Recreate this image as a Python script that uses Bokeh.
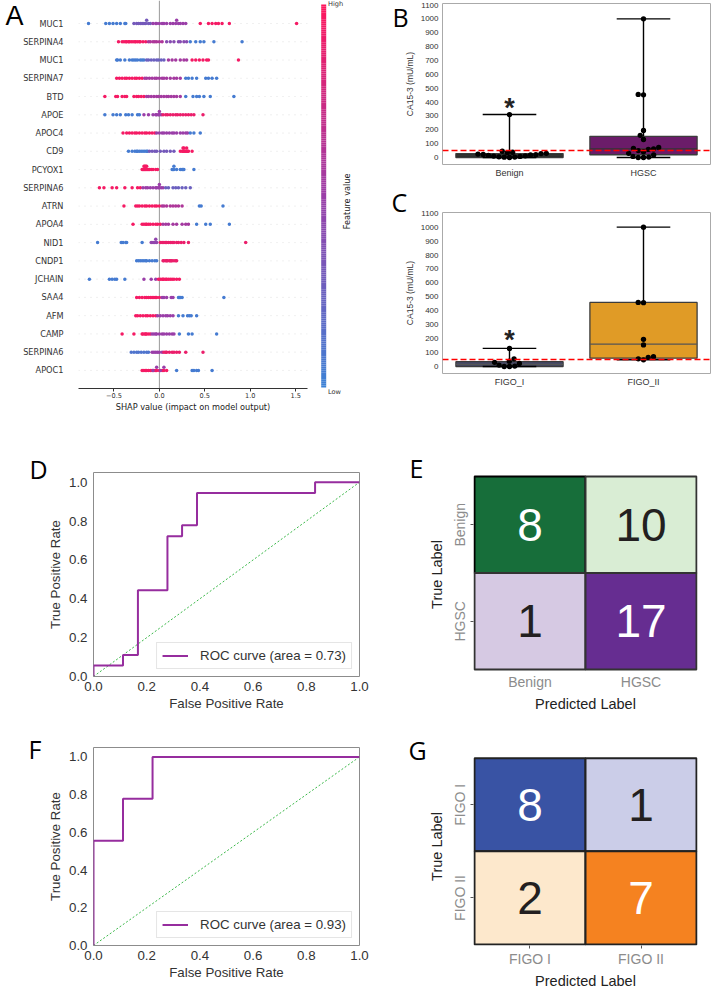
import numpy as np
from bokeh.plotting import figure
from bokeh.models import Range1d, FixedTicker, Span, Label, PrintfTickFormatter
from bokeh.layouts import row, column
from bokeh.embed import file_html
from bokeh.resources import INLINE
from bokeh.core.properties import value

# ====================== DATA ======================
# Panel A : SHAP summary. Each row: (feature level 0=low..1=high, SHAP values)
shap_features = ["MUC1", "SERPINA4", "MUC1", "SERPINA7", "BTD", "APOE", "APOC4", "CD9",
                 "PCYOX1", "SERPINA6", "ATRN", "APOA4", "NID1", "CNDP1", "JCHAIN",
                 "SAA4", "AFM", "CAMP", "SERPINA6", "APOC1"]
shap_xticks = [-0.5, 0.0, 0.5, 1.0, 1.5]

r01 = [(0.05, [-0.78, -0.59, -0.55, -0.51, -0.47, -0.43, -0.38, -0.37]),
       (0.30, [-0.28, -0.25, -0.23, -0.21, -0.19, -0.17, -0.15, -0.14, -0.12, -0.10]),
       (0.50, [-0.07, -0.04, -0.03, 0.0, 0.03, 0.05, 0.08, 0.12, 0.15, 0.18, 0.19, 0.21, 0.23, 0.26, 0.29]),
       (0.95, [0.45, 0.54, 0.58, 0.62, 0.65, 0.69, 0.77, 1.51])]
r02 = [(0.95, [-0.45, -0.41, -0.39, -0.37, -0.36, -0.34, -0.33, -0.31, -0.29, -0.27, -0.26, -0.24, -0.22, -0.21, -0.18, -0.15]),
       (0.60, [-0.12, -0.10, -0.07, -0.05, -0.03, 0.0, 0.03]),
       (0.40, [0.08, 0.12, 0.16, 0.21, 0.23, 0.27, 0.30]),
       (0.05, [0.34, 0.40, 0.45, 0.49, 0.60, 0.91])]
r03 = [(0.05, [-0.47, -0.46, -0.43, -0.38, -0.33, -0.30, -0.28, -0.26, -0.24, -0.21, -0.19, -0.17]),
       (0.25, [-0.14, -0.12, -0.09, -0.06, -0.03, -0.01, 0.02, 0.05]),
       (0.55, [0.10, 0.14, 0.18, 0.23, 0.27, 0.30]),
       (0.95, [0.36, 0.40, 0.44, 0.48, 0.52, 0.54, 0.87])]
r04 = [(0.95, [-0.47, -0.44, -0.41, -0.38, -0.36, -0.33, -0.30, -0.27, -0.25, -0.22, -0.19]),
       (0.55, [-0.16, -0.14, -0.11, -0.08, -0.05, -0.03, 0.0, 0.03, 0.05, 0.08, 0.12, 0.16, 0.19, 0.23]),
       (0.05, [0.29, 0.32, 0.36, 0.41, 0.51, 0.54, 0.58, 0.63])]
r05 = [(0.95, [-0.60, -0.48, -0.46, -0.41, -0.38, -0.36, -0.28, -0.25, -0.23, -0.20, -0.17]),
       (0.55, [-0.14, -0.12, -0.09, -0.06, -0.03, -0.01, 0.02, 0.05, 0.08, 0.10, 0.13, 0.16, 0.19, 0.23]),
       (0.05, [0.29, 0.37, 0.41, 0.44, 0.49, 0.56, 0.82])]
r06 = [(0.05, [-0.60, -0.51, -0.47, -0.43, -0.37, -0.34, -0.30, -0.24, -0.22]),
       (0.50, [-0.17, -0.12, -0.07, -0.04, -0.03, -0.01, 0.0, 0.0, 0.02]),
       (0.90, [0.04, 0.07, 0.09, 0.12, 0.15, 0.18, 0.20, 0.23, 0.26, 0.29, 0.32, 0.35, 0.38, 0.48])]
r07 = [(0.95, [-0.40, -0.36, -0.33, -0.30, -0.27, -0.25, -0.22, -0.19, -0.16, -0.14, -0.11, -0.08, -0.05]),
       (0.50, [-0.03, 0.0, 0.03, 0.05, 0.08, 0.11, 0.14, 0.16, 0.19, 0.23, 0.26, 0.29, 0.31]),
       (0.05, [0.34, 0.38, 0.45])]
r08 = [(0.05, [-0.34, -0.30, -0.27, -0.25, -0.24, -0.22, -0.20, -0.18, -0.16, -0.14, -0.13]),
       (0.30, [-0.11, -0.08, -0.05, -0.03, 0.01, 0.05, 0.08, 0.12, 0.16]),
       (0.95, [0.23, 0.25, 0.26, 0.26, 0.27, 0.27, 0.28, 0.29, 0.30, 0.30, 0.31, 0.32, 0.36])]
r09 = [(0.95, [-0.19, -0.18, -0.17, -0.17, -0.16, -0.16, -0.15, -0.15, -0.14, -0.14, -0.13, -0.12, -0.11, -0.09, -0.07, -0.04, -0.02]),
       (0.05, [0.14, 0.15, 0.16, 0.16, 0.19, 0.23, 0.25, 0.26, 0.27, 0.38])]
r10 = [(0.95, [-0.66, -0.61, -0.52, -0.47, -0.38, -0.30, -0.24, -0.21]),
       (0.50, [-0.18, -0.15, -0.13, -0.10, -0.07, -0.04, -0.03, -0.01, 0.0, 0.0, 0.02, 0.04]),
       (0.25, [0.07, 0.10, 0.15, 0.18, 0.21, 0.25, 0.29, 0.34])]
r11 = [(0.95, [-0.39, -0.26, -0.24, -0.22, -0.19, -0.16, -0.14, -0.11, -0.08, -0.05, -0.03, 0.0]),
       (0.60, [0.03, 0.05, 0.08, 0.12, 0.15, 0.18, 0.21, 0.25]),
       (0.05, [0.44, 0.46, 0.70])]
r12 = [(0.95, [-0.29, -0.19, -0.17, -0.15, -0.14, -0.12, -0.10, -0.07, -0.04, -0.02, 0.01]),
       (0.55, [0.04, 0.07, 0.10, 0.15, 0.19, 0.25, 0.29, 0.32]),
       (0.05, [0.41, 0.51, 0.56, 0.77])]
r13 = [(0.05, [-0.68, -0.42, -0.40, -0.37, -0.36, -0.19]),
       (0.45, [-0.09, -0.07, -0.05, -0.04, -0.03]),
       (0.90, [0.01, 0.03, 0.05, 0.07, 0.08, 0.10, 0.12, 0.14, 0.16, 0.19, 0.21, 0.24, 0.27, 0.32, 0.95])]
r14 = [(0.05, [-0.25, -0.23, -0.21, -0.19, -0.17, -0.15, -0.14, -0.11, -0.08, -0.05, -0.03]),
       (0.90, [0.04, 0.05, 0.07, 0.08, 0.09, 0.11, 0.12, 0.13, 0.14, 0.16, 0.18, 0.19])]
r15 = [(0.05, [-0.77, -0.55, -0.52, -0.49, -0.47, -0.38]),
       (0.50, [-0.17, -0.09, -0.04]),
       (0.95, [-0.01, 0.01, 0.03, 0.04, 0.05, 0.07, 0.08, 0.10, 0.12, 0.14, 0.16, 0.19, 0.22])]
r16 = [(0.95, [-0.25, -0.22, -0.19, -0.16, -0.14, -0.12, -0.10, -0.08, -0.06, -0.04, -0.03, 0.0]),
       (0.50, [0.03, 0.05, 0.08, 0.13, 0.15]),
       (0.05, [0.21, 0.22, 0.23, 0.25, 0.71])]
r17 = [(0.95, [-0.26, -0.24, -0.21, -0.18, -0.15, -0.13, -0.10, -0.07, -0.04]),
       (0.50, [-0.02, 0.01, 0.04, 0.07, 0.09, 0.12, 0.15]),
       (0.05, [0.21, 0.26, 0.31, 0.33, 0.35, 0.41])]
r18 = [(0.95, [-0.41, -0.28, -0.19, -0.18, -0.16, -0.15, -0.14, -0.12, -0.10]),
       (0.50, [-0.08, -0.06, -0.04, -0.03, 0.0, 0.03, 0.05, 0.08, 0.11, 0.14, 0.16]),
       (0.05, [0.22, 0.32, 0.36, 0.63])]
r19 = [(0.10, [-0.31, -0.28, -0.25, -0.23, -0.20, -0.17, -0.14, -0.12]),
       (0.50, [-0.08, -0.06, -0.04, -0.02, 0.0, 0.03]),
       (0.90, [0.05, 0.07, 0.08, 0.11, 0.14, 0.16, 0.19, 0.22, 0.29, 0.48])]
r20 = [(0.95, [-0.19, -0.17, -0.15, -0.14, -0.12, -0.10, -0.08, -0.06, -0.04, -0.03, 0.0, 0.03, 0.05, 0.08]),
       (0.50, [-0.07, -0.03, 0.01, 0.05]),
       (0.05, [0.19, 0.36, 0.38, 0.41, 0.43, 0.58])]
shap_rows = [r01, r02, r03, r04, r05, r06, r07, r08, r09, r10,
             r11, r12, r13, r14, r15, r16, r17, r18, r19, r20]

# Panel B : CA15-3 Benign vs HGSC
b_groups = ["Benign", "HGSC"]
b_benign = [310, 45, 38, 35, 30, 28, 25, 22, 20, 18, 15, 12, 10, 8, 5, 3, 2, 0]
b_hgsc = [1000, 455, 452, 195, 160, 130, 72, 65, 62, 58, 50, 42, 30, 18, 8, 3, 0, 0]
b_q1 = [0, 20]
b_med = [14, 62]
b_q3 = [28, 153]
b_lo = [0, 0]
b_hi = [310, 1000]
b_star = 355

# Panel C : CA15-3 FIGO I vs FIGO II
c_groups = ["FIGO_I", "FIGO_II"]
c_figo1 = [130, 55, 38, 30, 22, 10, 3, 0, 0]
c_figo2 = [1000, 460, 458, 195, 155, 70, 65, 55, 48]
c_q1 = [0, 60]
c_med = [15, 160]
c_q3 = [35, 460]
c_lo = [0, 48]
c_hi = [130, 1000]
c_star = 187

ca_cutoff = 50
ca_yticks = list(range(0, 1101, 100))

# Panel D / F : ROC curves
roc_d_fpr = [0, 0, 0.111, 0.111, 0.167, 0.167, 0.278, 0.278, 0.333, 0.333, 0.389, 0.389, 0.833, 0.833, 1.0]
roc_d_tpr = [0, 0.056, 0.056, 0.111, 0.111, 0.444, 0.444, 0.722, 0.722, 0.778, 0.778, 0.944, 0.944, 1.0, 1.0]
roc_d_auc = 0.73
roc_f_fpr = [0, 0, 0.111, 0.111, 0.222, 0.222, 1.0]
roc_f_tpr = [0, 0.556, 0.556, 0.778, 0.778, 1.0, 1.0]
roc_f_auc = 0.93
chance_x = [0, 1]
chance_y = [0, 1]
roc_ticks = [0.0, 0.2, 0.4, 0.6, 0.8, 1.0]

# Panel E / G : confusion matrices
cm_e_labels = ["Benign", "HGSC"]
cm_e = [[8, 10], [1, 17]]
cm_g_labels = ["FIGO I", "FIGO II"]
cm_g = [[8, 1], [2, 7]]

# ====================== STYLE / HELPERS ======================
LETTER_FONT = "Open Sans"
SANS = "Liberation Sans"


def _rgb(h):
    return tuple(int(h[i:i + 2], 16) for i in (1, 3, 5))


CM_ANCHORS = [(0.0, "#3c82d6"), (0.5, "#9a3ea8"), (1.0, "#ff165c")]


def cmap(t):
    for (t0, c0), (t1, c1) in zip(CM_ANCHORS[:-1], CM_ANCHORS[1:]):
        if t <= t1:
            f = (t - t0) / (t1 - t0)
            a, b = _rgb(c0), _rgb(c1)
            return "#%02x%02x%02x" % tuple(int(round(a[k] + (b[k] - a[k]) * f)) for k in range(3))
    return CM_ANCHORS[-1][1]


def shap_jitter(vals, row_height=0.4, nbins=100):
    vals = np.asarray(vals, dtype=float)
    n = len(vals)
    quant = np.round(nbins * (vals - vals.min()) / (vals.max() - vals.min() + 1e-8))
    inds = np.argsort(quant, kind="stable")
    layer, last = 0, None
    ys = np.zeros(n)
    for ind in inds:
        if quant[ind] != last:
            layer = 0
        ys[ind] = np.ceil(layer / 2) * ((layer % 2) * 2 - 1)
        layer += 1
        last = quant[ind]
    ys *= 0.9 * (row_height / np.max(ys + 1))
    return ys


def swarm_offsets(vals, px_per_y, d):
    vals = np.asarray(vals, dtype=float)
    order = np.argsort(vals, kind="stable")
    placed = []
    offs = np.zeros(len(vals))
    for i in order:
        y = vals[i] * px_per_y
        cands = [0.0]
        for (px, py) in placed:
            dy = abs(py - y)
            if dy < d:
                dx = np.sqrt(d * d - dy * dy)
                cands += [px - dx, px + dx]
        cands.sort(key=lambda c: (abs(c), c))
        for c in cands:
            if all((c - px) ** 2 + (y - py) ** 2 >= d * d - 1e-6 for px, py in placed):
                offs[i] = c
                break
        placed.append((offs[i], y))
    return offs


def add_letter(p, letter, geom, xr, yr, px, py_center, size="25px", font=LETTER_FONT):
    # panel letter, placed in the left side panel so that it is not clipped by the frame
    fl, ft, fw, fh = geom
    x = xr[0] + (px - fl) / fw * (xr[1] - xr[0])
    y = yr[1] - (py_center - ft) / fh * (yr[1] - yr[0])
    p.add_layout(Label(x=x, y=y, text=letter, text_font=font, text_font_size=size,
                       text_baseline="middle", text_align="left", text_color="black"),
                 "left")


def base_fig(fw, fh, left, right, top, bottom, xr, yr, **kw):
    p = figure(width=left + fw + right, height=top + fh + bottom,
               min_border_left=left, min_border_right=right,
               min_border_top=top, min_border_bottom=bottom,
               x_range=Range1d(*xr), y_range=Range1d(*yr),
               output_backend="svg", toolbar_location=None, **kw)
    p.xgrid.grid_line_color = None
    p.ygrid.grid_line_color = None
    p.background_fill_color = "white"
    p.border_fill_color = "white"
    return p


def no_ticks(ax):
    ax.major_tick_line_color = None
    ax.minor_tick_line_color = None
    ax.major_tick_out = 0
    ax.major_tick_in = 0
    ax.minor_tick_out = 0
    ax.minor_tick_in = 0


# ====================== PANEL A ======================
A_XR = (-0.89, 1.63)
A_YR = (-0.99, 20.26)
pA = base_fig(229, 388, 78, 13, 0, 32, A_XR, A_YR)
pA.outline_line_color = None
nrows = len(shap_features)
for i in range(nrows):
    pA.add_layout(Span(location=nrows - 1 - i, dimension="width", line_color="#cccccc",
                       line_width=0.6, line_dash="1 5", level="underlay"))
pA.add_layout(Span(location=0, dimension="height", line_color="#999999", line_width=1,
                   level="underlay"))
for i, groups in enumerate(shap_rows):
    vals = [v for _, g in groups for v in g]
    levels = [lv for lv, g in groups for _ in g]
    jit = shap_jitter(vals)
    ypos = (nrows - 1 - i) + jit
    pA.scatter(vals, ypos, size=3.5, fill_color=[cmap(l) for l in levels], line_color=None)

pA.yaxis.ticker = FixedTicker(ticks=list(range(nrows)))
pA.yaxis.major_label_overrides = {nrows - 1 - i: name for i, name in enumerate(shap_features)}
pA.yaxis.axis_line_color = None
no_ticks(pA.yaxis)
pA.yaxis.major_label_standoff = 15
pA.yaxis.major_label_text_font = "DejaVu Sans"
pA.yaxis.major_label_text_font_size = "8.2px"
pA.yaxis.major_label_text_color = "#333333"
pA.xaxis.ticker = FixedTicker(ticks=shap_xticks)
pA.xaxis.major_label_overrides = {t: ("\u2212" + "%.1f" % abs(t)) if t < 0 else "%.1f" % t
                                  for t in shap_xticks}
pA.xaxis.axis_line_color = "#333333"
pA.xaxis.major_tick_line_color = "#333333"
pA.xaxis.minor_tick_line_color = None
pA.xaxis.major_tick_out = 3
pA.xaxis.major_tick_in = 0
pA.xaxis.major_label_standoff = 1
pA.xaxis.major_label_text_font = "DejaVu Sans"
pA.xaxis.major_label_text_font_size = "6.6px"
pA.xaxis.major_label_text_color = "#333333"
pA.xaxis.axis_label = "SHAP value (impact on model output)"
pA.xaxis.axis_label_standoff = 1
pA.xaxis.axis_label_text_font = "DejaVu Sans"
pA.xaxis.axis_label_text_font_size = "8.2px"
pA.xaxis.axis_label_text_font_style = "normal"
pA.xaxis.axis_label_text_color = "#222222"
add_letter(pA, "A", (78, 0, 229, 388), A_XR, A_YR, 5, 15.8, "27px", SANS)

# colour bar (separate small figure, same top/bottom borders as panel A)
CB_YR = (-0.00261, 1.01044)
pCB = figure(width=40, height=420, min_border_left=0, min_border_right=0,
             min_border_top=0, min_border_bottom=32, x_range=Range1d(320, 360),
             y_range=Range1d(*CB_YR), y_axis_type=None,
             output_backend="svg", toolbar_location=None)
pCB.xgrid.grid_line_color = None
pCB.ygrid.grid_line_color = None
pCB.outline_line_color = None
nb = 200
lv = np.arange(nb) / nb
pCB.quad(left=320.7, right=325.7, bottom=lv, top=lv + 1.0 / nb,
         fill_color=[cmap(t + 0.5 / nb) for t in lv], line_color=None)
pCB.text(x=[327.5], y=[1.0], text=["High"], text_font=value("DejaVu Sans"),
         text_font_size="6.6px", text_color="#333333", text_align="left", text_baseline="middle")
pCB.text(x=[346.5], y=[0.486], text=["Feature value"], text_font=value("DejaVu Sans"),
         text_font_size="8.2px", text_color="#222222", text_align="center",
         text_baseline="middle", angle=np.pi / 2)
pCB.xaxis.ticker = FixedTicker(ticks=[334])
pCB.xaxis.major_label_overrides = {334: "Low"}
pCB.xaxis.axis_line_color = None
no_ticks(pCB.xaxis)
pCB.xaxis.major_label_standoff = -1
pCB.xaxis.major_label_text_font = "DejaVu Sans"
pCB.xaxis.major_label_text_font_size = "6.6px"
pCB.xaxis.major_label_text_color = "#333333"


# ====================== PANELS B / C ======================
def box_panel(groups, samples, q1, med, q3, lo, hi, fills, med_cols, star_y, yr, top, bottom,
              frame_top, letter, letter_xy):
    xr = (-0.5, 1.5)
    p = base_fig(268, 161, 82, 2, top, bottom, xr, yr)
    p.outline_line_color = "#aaaaaa"
    cats = [0, 1]
    p.quad(left=[c - 0.4 for c in cats], right=[c + 0.4 for c in cats], bottom=q1, top=q3,
           fill_color=fills, line_color="#3c3c3c", line_width=1.3)
    p.segment(x0=[c - 0.4 for c in cats], y0=med, x1=[c + 0.4 for c in cats], y1=med,
              line_color=med_cols, line_width=1.3)
    p.segment(x0=cats, y0=q3, x1=cats, y1=hi, line_color="black", line_width=1.4)
    p.segment(x0=cats, y0=lo, x1=cats, y1=q1, line_color="black", line_width=1.4)
    p.segment(x0=[c - 0.2 for c in cats], y0=hi, x1=[c + 0.2 for c in cats], y1=hi,
              line_color="black", line_width=1.4)
    p.segment(x0=[c - 0.2 for c in cats], y0=lo, x1=[c + 0.2 for c in cats], y1=lo,
              line_color="black", line_width=1.4)
    p.add_layout(Span(location=ca_cutoff, dimension="width", line_color="#ff0000",
                      line_width=1.5, line_dash="6 3"))
    px_per_y = 161.0 / (yr[1] - yr[0])
    for c, vals in zip(cats, samples):
        offs = swarm_offsets(vals, px_per_y, 5.3)
        p.scatter([c + o / 134.0 for o in offs], vals, size=5.3, fill_color="black",
                  line_color=None)
    p.text(x=[0], y=[star_y], text=["*"], text_font=value(SANS), text_font_size="27px",
           text_font_style="bold", text_align="center", text_baseline="middle",
           text_color="#222222")
    p.xaxis.ticker = FixedTicker(ticks=cats)
    p.xaxis.major_label_overrides = {c: g for c, g in zip(cats, groups)}
    p.yaxis.ticker = FixedTicker(ticks=ca_yticks)
    for ax in (p.xaxis, p.yaxis):
        ax.axis_line_color = None
        no_ticks(ax)
        ax.major_label_text_font = SANS
        ax.major_label_text_color = "#333333"
    p.xaxis.major_label_text_font_size = "9px"
    p.xaxis.major_label_standoff = 3
    p.yaxis.major_label_text_font_size = "8px"
    p.yaxis.major_label_standoff = 4
    p.yaxis.axis_label = "CA15-3 (mU/mL)"
    p.yaxis.axis_label_text_font = SANS
    p.yaxis.axis_label_text_font_size = "8.5px"
    p.yaxis.axis_label_text_font_style = "normal"
    p.yaxis.axis_label_text_color = "#333333"
    p.yaxis.axis_label_standoff = 3
    add_letter(p, letter, (442, frame_top, 268, 161), xr, yr, letter_xy[0], letter_xy[1])
    return p


pB = box_panel(b_groups, [b_benign, b_hgsc], b_q1, b_med, b_q3, b_lo, b_hi,
               ["#282c28", "#6b1c69"], ["#333333", "#333333"], b_star,
               (-50.5, 1110.8), 3, 16, 3, "B", (392, 16.5))
pC = box_panel(c_groups, [c_figo1, c_figo2], c_q1, c_med, c_q3, c_lo, c_hi,
               ["#464868", "#e09b26"], ["#555555", "#555555"], c_star,
               (-50.2, 1105.0), 32, 47, 212, "C", (391, 201))


# ====================== PANELS D / F ======================
def roc_panel(fpr, tpr, auc, top, bottom, frame_top, letter, letter_xy):
    xr, yr = (0.0, 1.0), (0.0, 1.05)
    p = base_fig(266, 204, 93, 13, top, bottom, xr, yr)
    p.outline_line_color = "#8c8c8c"
    p.line(chance_x, chance_y, line_color="#3cb84a", line_width=1, line_dash="2 2")
    p.line(fpr, tpr, line_color="#962d9e", line_width=2,
           legend_label="ROC curve (area = %.2f)" % auc)
    p.xaxis.ticker = FixedTicker(ticks=roc_ticks)
    p.yaxis.ticker = FixedTicker(ticks=roc_ticks)
    for ax in (p.xaxis, p.yaxis):
        ax.formatter = PrintfTickFormatter(format="%.1f")
        ax.axis_line_color = None
        no_ticks(ax)
        ax.major_label_text_font = SANS
        ax.major_label_text_font_size = "13.3px"
        ax.major_label_text_color = "#333333"
        ax.axis_label_text_font = SANS
        ax.axis_label_text_font_size = "13.3px"
        ax.axis_label_text_font_style = "normal"
        ax.axis_label_text_color = "#333333"
    p.xaxis.major_label_standoff = 5
    p.yaxis.major_label_standoff = 6
    p.xaxis.axis_label = "False Positive Rate"
    p.yaxis.axis_label = "True Positive Rate"
    p.xaxis.axis_label_standoff = 2
    p.yaxis.axis_label_standoff = 3
    lg = p.legend[0]
    lg.location = "bottom_right"
    lg.margin = 7
    lg.padding = 5
    lg.spacing = 0
    lg.glyph_width = 26
    lg.glyph_height = 13
    lg.label_height = 13
    lg.label_standoff = 12
    lg.label_text_font = SANS
    lg.label_text_font_size = "13.3px"
    lg.label_text_color = "#333333"
    lg.border_line_color = "#cccccc"
    lg.border_line_width = 1
    lg.background_fill_color = "white"
    lg.background_fill_alpha = 0.9
    add_letter(p, letter, (93, frame_top, 266, 204), xr, yr, letter_xy[0], letter_xy[1])
    return p


# rows 2 and 3: plots in the same row share top / bottom borders (frames are aligned)
pD = roc_panel(roc_d_fpr, roc_d_tpr, roc_d_auc, 52, 44, 472, "D", (29, 468))
pF = roc_panel(roc_f_fpr, roc_f_tpr, roc_f_auc, 27, 40, 747, "F", (28, 748.5))


# ====================== PANELS E / G ======================
def cm_panel(cm, labels, fills, txt_cols, edge_cols, top, bottom, yr, frame_top,
             x_tick_out, x_standoff, x_label_standoff, letter, letter_xy):
    xr = (-0.009, 2.009)
    p = base_fig(224, 204, 101, 15, top, bottom, xr, yr)
    p.outline_line_color = None
    xs, ys, txt = [], [], []
    for r in range(2):
        for c in range(2):
            xs.append(c + 0.5)
            ys.append(1 - r + 0.5)
            txt.append(str(cm[r][c]))
    p.rect(x=xs, y=ys, width=1, height=1, fill_color=fills, line_color=edge_cols, line_width=2)
    p.text(x=xs, y=ys, text=txt, text_color=txt_cols, text_font=value(SANS),
           text_font_size="46px", text_align="center", text_baseline="middle")
    p.xaxis.ticker = FixedTicker(ticks=[0.5, 1.5])
    p.xaxis.major_label_overrides = {0.5: labels[0], 1.5: labels[1]}
    p.yaxis.ticker = FixedTicker(ticks=[0.5, 1.5])
    p.yaxis.major_label_overrides = {1.5: labels[0], 0.5: labels[1]}
    p.yaxis.major_label_orientation = "vertical"
    for ax in (p.xaxis, p.yaxis):
        ax.axis_line_color = None
        ax.major_tick_line_color = "#555555"
        ax.major_tick_out = 3
        ax.major_tick_in = 0
        ax.minor_tick_line_color = None
        ax.minor_tick_out = 0
        ax.major_label_text_font = SANS
        ax.major_label_text_font_size = "14px"
        ax.major_label_text_color = "#8c8c8c"
        ax.axis_label_text_font = SANS
        ax.axis_label_text_font_size = "14.5px"
        ax.axis_label_text_font_style = "normal"
        ax.axis_label_text_color = "#222222"
    p.xaxis.major_tick_out = x_tick_out
    if x_tick_out == 0:
        p.xaxis.major_tick_line_color = None
    p.xaxis.major_label_standoff = x_standoff
    p.yaxis.major_label_standoff = 2
    p.xaxis.axis_label = "Predicted Label"
    p.yaxis.axis_label = "True Label"
    p.xaxis.axis_label_standoff = x_label_standoff
    p.yaxis.axis_label_standoff = 5
    add_letter(p, letter, (473, frame_top, 224, 204), xr, yr, letter_xy[0], letter_xy[1])
    return p


pE = cm_panel(cm_e, cm_e_labels,
              ["#176e3a", "#d9edd4", "#d6c9e3", "#662d91"],
              ["white", "#231f20", "#231f20", "white"],
              ["#000000", "#333333", "#333333", "#333333"],
              52, 44, (-0.0725, 2.0415), 472, 0, -3, 3, "E", (409, 467))
pG = cm_panel(cm_g, cm_g_labels,
              ["#3953a4", "#cbcde8", "#fde8cc", "#f58220"],
              ["white", "#231f20", "#231f20", "white"],
              ["#222222", "#222222", "#222222", "#222222"],
              27, 40, (-0.0104, 2.1146), 747, 3, 2, 3, "G", (408, 750))

layout = column(row(pA, pCB, column(pB, pC)), row(pD, pE), row(pF, pG))
open("out.html", "w").write(file_html(layout, INLINE))
